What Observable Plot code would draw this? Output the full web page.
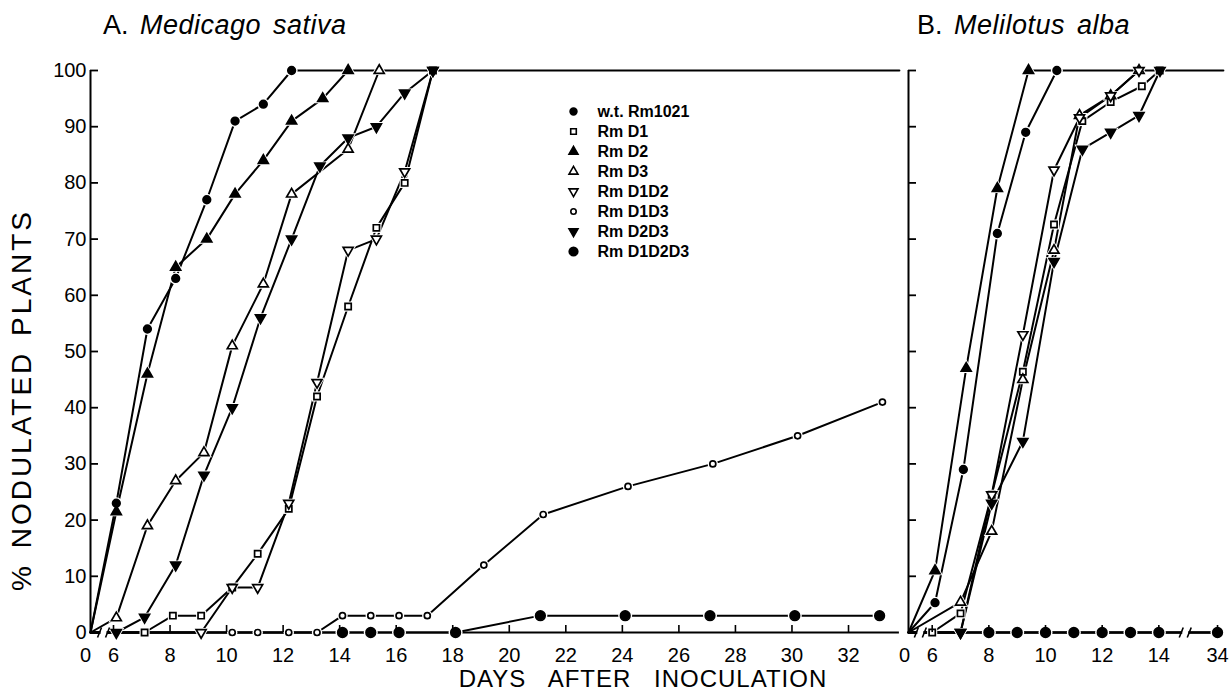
<!DOCTYPE html>
<html><head><meta charset="utf-8">
<script src="https://cdn.jsdelivr.net/npm/d3@7"></script>
<script src="https://cdn.jsdelivr.net/npm/@observablehq/plot@0.6"></script>
<style>
html,body{margin:0;padding:0;background:#fff;}
#chart{position:relative;width:1231px;height:693px;overflow:hidden;font-family:"Liberation Sans",Arial,sans-serif;color:#000;background:#fff;}
#chart svg{position:absolute;left:0;top:0;}
.title{position:absolute;font-size:27px;line-height:1;white-space:nowrap;word-spacing:4px;}
.title i{letter-spacing:0.5px;}
#ylab{position:absolute;left:22px;top:400px;transform:translate(-50%,-50%) rotate(-90deg);font-size:28px;line-height:1;white-space:nowrap;letter-spacing:3px;word-spacing:4px;}
#xlab{position:absolute;left:643px;top:679px;transform:translate(-50%,-50%);font-size:24px;line-height:1;white-space:nowrap;letter-spacing:1px;word-spacing:15px;}
</style></head><body>
<div id="chart">
  <div class="title" style="left:103px;top:12px;">A. <i>Medicago sativa</i></div>
  <div class="title" style="left:917px;top:12px;">B. <i>Melilotus alba</i></div>
  <div id="ylab">% NODULATED PLANTS</div>
  <div id="xlab">DAYS AFTER INOCULATION</div>
</div>
<script>
// ---------- data ----------
const seriesNames = ["w.t. Rm1021", "Rm D1", "Rm D2", "Rm D3", "Rm D1D2", "Rm D1D3", "Rm D2D3", "Rm D1D2D3"];

// Panel A: Medicago sativa — [day after inoculation, % nodulated plants]
const A_wt     = [[0,0],[6.1,23],[7.2,54],[8.2,63],[9.3,77],[10.3,91],[11.3,94],[12.3,100]];
const A_D1     = [[0,0],[7.1,0],[8.1,3],[9.1,3],[10.2,8],[11.1,14],[12.2,22],[13.2,42],[14.3,58],[15.3,72],[16.3,80],[17.3,100]];
const A_D2     = [[0,0],[6.1,21.5],[7.2,46],[8.2,65],[9.3,70],[10.3,78],[11.3,84],[12.3,91],[13.4,95],[14.3,100]];
const A_D3     = [[0,0],[6.1,2.6],[7.2,19],[8.2,27],[9.2,32],[10.2,51],[11.3,62],[12.3,78],[14.3,86],[15.4,100]];
const A_D1D2   = [[0,0],[9.1,0],[10.2,8],[11.1,8],[12.2,23],[13.2,44.5],[14.3,68],[15.3,70],[16.3,82],[17.3,100]];
const A_D1D3   = [[0,0],[10.2,0],[11.1,0],[12.2,0],[13.2,0],[14.1,3],[15.1,3],[16.1,3],[17.1,3],[19.1,12],[21.2,21],[24.2,26],[27.2,30],[30.2,35],[33.2,41]];
const A_D2D3   = [[0,0],[6.1,0],[7.1,2.7],[8.2,12],[9.2,28],[10.2,40],[11.2,56],[12.3,70],[13.3,83],[14.3,88],[15.3,90],[16.3,96],[17.3,100]];
const A_D1D2D3 = [[0,0],[14.1,0],[15.1,0],[16.1,0],[18.1,0],[21.1,3],[24.1,3],[27.1,3],[30.1,3],[33.1,3]];
const A_plateau = [[12.3,100],[33.8,100]];

// Panel B: Melilotus alba
const B_wt     = [[0,0],[6.1,5.3],[7.1,29],[8.3,71],[9.3,89],[10.4,100]];
const B_D1     = [[0,0],[6.0,0],[7.0,3.4],[8.1,24.5],[9.2,46.4],[10.3,72.6],[11.3,91],[12.3,94.4],[13.4,97.2],[14.3,100]];
const B_D2     = [[0,0],[6.1,11],[7.2,47],[8.3,79],[9.4,100]];
const B_D3     = [[0,0],[7.0,5.4],[8.1,18],[9.2,45],[10.3,68],[11.2,92],[12.3,95.5],[13.3,100]];
const B_D1D2   = [[0,0],[7.0,0],[8.1,24.5],[9.2,53],[10.3,82.3],[11.2,91.6],[12.3,95.5],[13.3,100]];
const B_D1D3   = [[0,0],[8,0],[9,0],[10,0],[11,0],[12,0],[13,0],[14,0],[34,0]];
const B_D2D3   = [[0,0],[7.0,0],[8.1,23],[9.2,34],[10.3,66],[11.3,86],[12.3,89],[13.3,92],[14.4,100]];
const B_D1D2D3 = [[0,0],[8,0],[9,0],[10,0],[11,0],[12,0],[13,0],[14,0],[34,0]];
const B_plateau = [[9.4,100],[36,100]];

// ticks
const yTicks = [0,10,20,30,40,50,60,70,80,90,100];
const A_xLabels = [6,8,10,12,14,16,18,20,22,24,26,28,30,32];
const B_xLabels = [6,8,10,12,14,34];
const A_breaks = [3.4];
const B_breaks = [3.0, 23.0];

// ---------- broken-axis position functions (axis breaks compress 0–6 and 14–34) ----------
const fA = d => d >= 6 ? d : 6 - (6 - d) * (23 / 28.27) / 6;
const fB = d => d < 6 ? 6 - (6 - d) * (23.7 / 28.33) / 6 : d <= 14 ? d : 14 + (d - 14) * (2.935 / 28.33);

// ---------- styling ----------
const sqrt3 = Math.sqrt(3);
const triangleDown = {draw(ctx, size) {
  const y = Math.sqrt(size / (sqrt3 * 3));
  ctx.moveTo(0, y * 2); ctx.lineTo(-sqrt3 * y, -y); ctx.lineTo(sqrt3 * y, -y); ctx.closePath();
}};
const breakSym = {draw(ctx) {
  ctx.moveTo(-6, 5); ctx.lineTo(-2, -5); ctx.moveTo(2, 5); ctx.lineTo(6, -5);
}};
const sty = {
  "w.t. Rm1021": {symbol: "circle", fill: "black", r: 3.8},
  "Rm D1":       {symbol: "square", fill: "white", r: 3.5},
  "Rm D2":       {symbol: "triangle", fill: "black", r: 3.7},
  "Rm D3":       {symbol: "triangle", fill: "white", r: 3.7},
  "Rm D1D2":     {symbol: triangleDown, fill: "white", r: 3.7},
  "Rm D1D3":     {symbol: "circle", fill: "white", r: 3.0},
  "Rm D2D3":     {symbol: triangleDown, fill: "black", r: 3.7},
  "Rm D1D2D3":   {symbol: "circle", fill: "black", r: 4.8}
};
const font = {fontFamily: "'Liberation Sans', Arial, sans-serif", fontSize: "20px", background: "transparent", overflow: "visible", color: "black"};

function panel(cfg) {
  const f = cfg.f;
  const rows = seriesNames.flatMap(name => cfg.series[name].map(([day, pct]) => ({name, day, pct})));
  const pts = name => rows.filter(d => d.name === name && d.day > 0);
  const X = d => f(d.day);
  const marks = [
    Plot.ruleY([0], {stroke: "black", strokeWidth: 2}),
    Plot.ruleX([f(0)], {stroke: "black", strokeWidth: 2}),
    Plot.line(cfg.plateau, {x: d => f(d[0]), y: d => d[1], stroke: "black", strokeWidth: 2}),
    Plot.line(rows, {x: X, y: "pct", z: "name", stroke: "black", strokeWidth: 2})
  ];
  for (const name of seriesNames) {
    const s = sty[name];
    marks.push(Plot.dot(pts(name), {x: X, y: "pct", symbol: s.symbol, r: s.r + 2.2, fill: "white", stroke: "none"}));
  }
  for (const name of seriesNames) {
    const s = sty[name];
    marks.push(Plot.dot(pts(name), {x: X, y: "pct", symbol: s.symbol, r: s.r, fill: s.fill, stroke: "black", strokeWidth: 1.7}));
  }
  marks.push(Plot.dot(cfg.breaks, {x: d => f(d), y: 0, symbol: "square", r: 3.4, fill: "white", stroke: "none"}));
  marks.push(Plot.dot(cfg.breaks, {x: d => f(d), y: 0, symbol: breakSym, fill: "none", stroke: "black", strokeWidth: 1.6}));
  // axes
  marks.push(Plot.axisY({ticks: yTicks, tickSize: -8, tickFormat: () => "", label: null, strokeWidth: 1.8}));
  if (cfg.yLabels) marks.push(Plot.axisY({ticks: yTicks, tickSize: 0, tickPadding: 4, label: null, fontSize: 20}));
  marks.push(Plot.axisX({ticks: cfg.xLabels.map(f), tickSize: -7, tickFormat: () => "", label: null, strokeWidth: 1.6}));
  marks.push(Plot.text(cfg.xLabels, {x: d => f(d), y: 0, text: d => String(d), dy: 23, fontSize: 20, fill: "black"}));
  marks.push(Plot.text([0], {x: d => f(d), y: 0, text: d => String(d), dy: 23, dx: cfg.zeroDx, fontSize: 20, fill: "black"}));
  return Plot.plot({
    width: 1231, height: 693,
    marginLeft: cfg.marginLeft, marginRight: cfg.marginRight, marginTop: 70, marginBottom: 61,
    x: {domain: [f(0), f(cfg.xMax)]},
    y: {domain: [0, 100], range: [632, 70]},
    style: font,
    marks
  });
}

const chart = document.getElementById("chart");
chart.appendChild(panel({
  series: {"w.t. Rm1021": A_wt, "Rm D1": A_D1, "Rm D2": A_D2, "Rm D3": A_D3, "Rm D1D2": A_D1D2, "Rm D1D3": A_D1D3, "Rm D2D3": A_D2D3, "Rm D1D2D3": A_D1D2D3},
  f: fA, xMax: 33.8, plateau: A_plateau, breaks: A_breaks, xLabels: A_xLabels, yLabels: true, zeroDx: -5,
  marginLeft: 90, marginRight: 1231 - 898.9
}));
chart.appendChild(panel({
  series: {"w.t. Rm1021": B_wt, "Rm D1": B_D1, "Rm D2": B_D2, "Rm D3": B_D3, "Rm D1D2": B_D1D2, "Rm D1D3": B_D1D3, "Rm D2D3": B_D2D3, "Rm D1D2D3": B_D1D2D3},
  f: fB, xMax: 36, plateau: B_plateau, breaks: B_breaks, xLabels: B_xLabels, yLabels: false, zeroDx: -4,
  marginLeft: 908, marginRight: 1231 - 1222.9
}));

// legend
const legendMarks = [];
for (const name of seriesNames) {
  const s = sty[name];
  legendMarks.push(Plot.dot([name], {x: 0, y: d => d, symbol: s.symbol, r: s.r * 0.9, fill: s.fill, stroke: "black", strokeWidth: 1.6}));
}
legendMarks.push(Plot.text(seriesNames, {x: 1, y: d => d, text: d => d, textAnchor: "start", fontSize: 16, fontWeight: "bold", fill: "black"}));
chart.appendChild(Plot.plot({
  width: 1231, height: 693, margin: 0,
  x: {domain: [0, 1], range: [573, 597], axis: null},
  y: {type: "point", padding: 0, domain: seriesNames, range: [108.5, 253.3], axis: null},
  style: font,
  marks: legendMarks
}));
</script>
</body></html>
